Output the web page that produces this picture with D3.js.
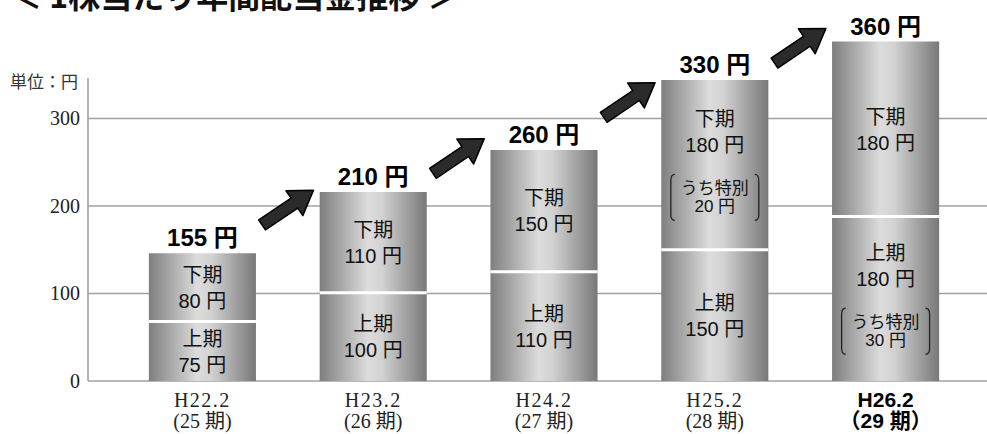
<!DOCTYPE html>
<html>
<head>
<meta charset="utf-8">
<script src="https://cdn.jsdelivr.net/npm/d3@7"></script>
<style>
    body { margin: 0; background: #fff; }
    svg { display: block; }
</style>
</head>
<body>
<div id="chart"></div>
<script>
// Chart data
var periods = ["H22.2", "H23.2", "H24.2", "H25.2", "H26.2"];
var periodNumbers = ["(25 期)", "(26 期)", "(27 期)", "(28 期)", "（29 期）"];
var totals = [155, 210, 260, 330, 360];          // 年間配当金 (label values)
var firstHalf = [75, 100, 110, 150, 180];        // 上期
var secondHalf = [80, 110, 150, 180, 180];       // 下期
var specialFirst = [null, null, null, null, 30]; // 上期 うち特別
var specialSecond = [null, null, null, 20, null];// 下期 うち特別
// Bar heights as they are drawn in the picture (not to scale with labels)
var firstHalfShown = [68, 101, 125, 150, 188];
var totalShown = [146, 216, 264, 344, 388];
var yTicks = [0, 100, 200, 300];

(function () {
    var width = 987, height = 434;
    var sansFont = "'Liberation Sans', Arial, 'Noto Sans CJK JP', sans-serif";
    var serifFont = "'Liberation Serif', 'Times New Roman', 'Noto Sans CJK JP', serif";
    var cjkFont = "'Noto Sans CJK JP', sans-serif";

    var svg = d3.select("#chart")
        .append("svg")
        .attr("width", width)
        .attr("height", height);

    // Horizontal gradient that gives the bars their cylinder look
    var grad = svg.append("defs")
        .append("linearGradient")
        .attr("id", "barGrad")
        .attr("x1", "0%").attr("x2", "100%")
        .attr("y1", "0%").attr("y2", "0%");
    grad.append("stop").attr("offset", "0%").attr("stop-color", "#7e7e7e");
    grad.append("stop").attr("offset", "45%").attr("stop-color", "#dcdcdc");
    grad.append("stop").attr("offset", "58%").attr("stop-color", "#d2d2d2");
    grad.append("stop").attr("offset", "100%").attr("stop-color", "#787878");

    // Scales
    var x = d3.scaleBand()
        .domain(periods)
        .range([117, 971])
        .paddingInner(0.373)
        .paddingOuter(0.1865);

    var y = d3.scaleLinear()
        .domain([0, 400])
        .range([381, 31]);

    var bw = x.bandwidth();

    // Title (cut off at the top edge in the original)
    svg.append("text")
        .attr("x", 10)
        .attr("y", 8)
        .style("font-family", cjkFont)
        .style("font-weight", "bold")
        .style("font-size", "32px")
        .style("fill", "#111")
        .text("＜ 1株当たり年間配当金推移 ＞");

    // Gridlines
    svg.append("g")
        .selectAll("line")
        .data(yTicks)
        .join("line")
        .attr("x1", 88)
        .attr("x2", width)
        .attr("y1", function (d) { return y(d); })
        .attr("y2", function (d) { return y(d); })
        .style("stroke", "#a0a0a0")
        .style("stroke-width", 1.6);

    // Vertical axis line
    svg.append("line")
        .attr("x1", 88).attr("x2", 88)
        .attr("y1", 78).attr("y2", y(0))
        .style("stroke", "#a0a0a0")
        .style("stroke-width", 1.6);

    // Y axis labels
    var yAxis = svg.append("g")
        .attr("transform", "translate(88,0)")
        .call(d3.axisLeft(y).tickValues(yTicks).tickSize(0).tickPadding(8));
    yAxis.select(".domain").remove();
    yAxis.selectAll("text")
        .style("font-family", serifFont)
        .style("font-size", "20px")
        .style("fill", "#222");

    svg.append("text")
        .attr("x", 10)
        .attr("y", 88)
        .style("font-family", cjkFont)
        .style("font-size", "17px")
        .style("fill", "#333")
        .text("単位：円");

    // Bars: one rect per year, split by a white line between 上期 and 下期
    var bars = svg.append("g")
        .selectAll("g")
        .data(periods)
        .join("g");

    bars.append("rect")
        .attr("x", function (d) { return x(d); })
        .attr("y", function (d, i) { return y(totalShown[i]); })
        .attr("width", bw)
        .attr("height", function (d, i) { return y(0) - y(totalShown[i]); })
        .style("fill", "url(#barGrad)");

    bars.append("line")
        .attr("x1", function (d) { return x(d); })
        .attr("x2", function (d) { return x(d) + bw; })
        .attr("y1", function (d, i) { return y(firstHalfShown[i]); })
        .attr("y2", function (d, i) { return y(firstHalfShown[i]); })
        .style("stroke", "#fff")
        .style("stroke-width", 3);

    // Writes the lines of text inside one segment, centred vertically
    // offsets are measured from the first baseline: plain block -17..28, with note -17..94
    function segmentText(g, cx, top, bottom, name, value, special) {
        var mid = (top + bottom) / 2;
        var base = special == null ? mid - 5.5 : mid - 38.5;
        var lines = [name, value + " 円"];
        lines.forEach(function (t, k) {
            g.append("text")
                .attr("x", cx)
                .attr("y", base + k * 26)
                .attr("text-anchor", "middle")
                .style("font-family", sansFont)
                .style("font-size", "20px")
                .style("fill", "#111")
                .text(t);
        });
        if (special != null) {
            var n1 = base + 26 + 42, n2 = n1 + 18;
            ["うち特別", special + " 円"].forEach(function (t, k) {
                g.append("text")
                    .attr("x", cx)
                    .attr("y", k === 0 ? n1 : n2)
                    .attr("text-anchor", "middle")
                    .style("font-family", sansFont)
                    .style("font-size", "17px")
                    .style("fill", "#111")
                    .text(t);
            });
            var bt = n1 - 20, bb = n2 + 8, half = 44;
            [-1, 1].forEach(function (s) {
                var bx = cx + s * half;
                g.append("path")
                    .attr("d", "M" + (bx - s * 4) + "," + bt +
                        " Q" + bx + "," + bt + " " + bx + "," + (bt + 6) +
                        " L" + bx + "," + (bb - 6) +
                        " Q" + bx + "," + bb + " " + (bx - s * 4) + "," + bb)
                    .style("fill", "none")
                    .style("stroke", "#222")
                    .style("stroke-width", 1.3);
            });
        }
    }

    bars.each(function (d, i) {
        var g = d3.select(this);
        var cx = x(d) + bw / 2;
        segmentText(g, cx, y(totalShown[i]), y(firstHalfShown[i]), "下期", secondHalf[i], specialSecond[i]);
        segmentText(g, cx, y(firstHalfShown[i]), y(0), "上期", firstHalf[i], specialFirst[i]);
    });

    // Total labels on top of the bars
    bars.append("text")
        .attr("x", function (d) { return x(d) + bw / 2; })
        .attr("y", function (d, i) { return y(totalShown[i]) - 7; })
        .attr("text-anchor", "middle")
        .style("font-family", sansFont)
        .style("font-weight", "bold")
        .style("font-size", "24px")
        .style("fill", "#000")
        .text(function (d, i) { return totals[i] + " 円"; });

    // X axis labels (last one is bold)
    var last = periods.length - 1;
    bars.append("text")
        .attr("x", function (d) { return x(d) + bw / 2; })
        .attr("y", 407)
        .attr("text-anchor", "middle")
        .style("font-family", function (d, i) { return i === last ? sansFont : serifFont; })
        .style("font-weight", function (d, i) { return i === last ? "bold" : "normal"; })
        .style("font-size", function (d, i) { return i === last ? "21px" : "20px"; })
        .style("letter-spacing", function (d, i) { return i === last ? "0px" : "1.5px"; })
        .style("fill", function (d, i) { return i === last ? "#000" : "#222"; })
        .text(function (d) { return d; });

    bars.append("text")
        .attr("x", function (d) { return x(d) + bw / 2; })
        .attr("y", 428)
        .attr("text-anchor", "middle")
        .style("font-family", function (d, i) { return i === last ? sansFont : serifFont; })
        .style("font-weight", function (d, i) { return i === last ? "bold" : "normal"; })
        .style("font-size", function (d, i) { return i === last ? "21px" : "20px"; })
        .style("fill", function (d, i) { return i === last ? "#000" : "#222"; })
        .text(function (d, i) { return periodNumbers[i]; });

    // Arrows between bars, centred in the gaps between the total labels
    var arrowShape = "M-31,-6 L8,-6 L8,-15 L31,0 L8,15 L8,6 L-31,6 Z";
    svg.append("g")
        .selectAll("path")
        .data(d3.range(periods.length - 1))
        .join("path")
        .attr("d", arrowShape)
        .attr("transform", function (i) {
            var ax = (x(periods[i]) + bw + x(periods[i + 1])) / 2;
            var ay = ((y(totalShown[i]) - 15) + (y(totalShown[i + 1]) - 15)) / 2;
            return "translate(" + ax + "," + ay + ") rotate(-34)";
        })
        .style("fill", "#2b2b2b")
        .style("stroke", "#000")
        .style("stroke-width", 1.5)
        .style("stroke-linejoin", "round");
}());
</script>
</body>
</html>
